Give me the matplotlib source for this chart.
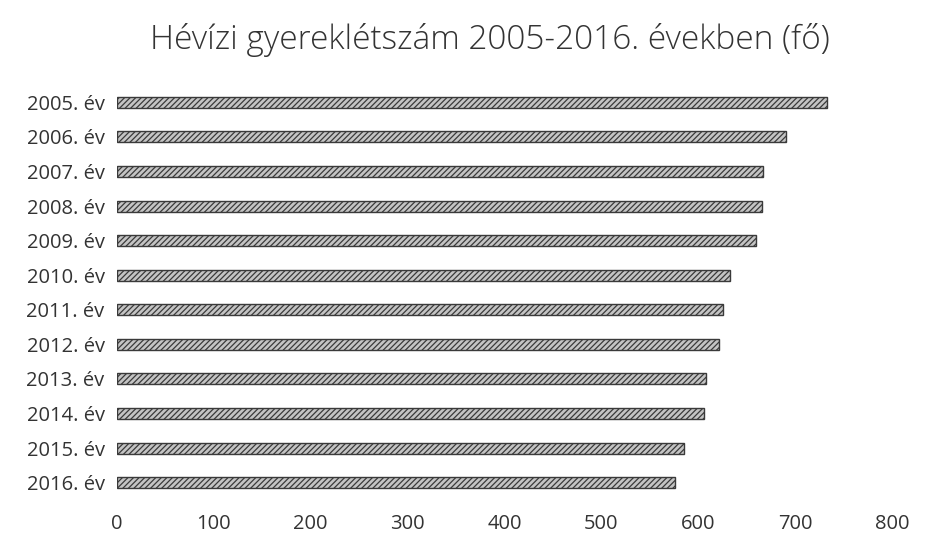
import numpy as np
import matplotlib.pyplot as plt

plt.rcParams['font.family'] = ['Open Sans', 'DejaVu Sans']
plt.rcParams['hatch.color'] = '#7a7a7a'
plt.rcParams['hatch.linewidth'] = 0.9

# adatok
evek = ['2005. év', '2006. év', '2007. év', '2008. év', '2009. év', '2010. év',
        '2011. év', '2012. év', '2013. év', '2014. év', '2015. év', '2016. év']
letszam = [733, 691, 667, 666, 660, 633, 626, 621, 608, 606, 585, 576]
xticks = [0, 100, 200, 300, 400, 500, 600, 700, 800]

fig = plt.figure(figsize=(9.25, 5.4), dpi=100)
ax = fig.add_axes([117 / 925, 1 - 500 / 540, 775 / 925, 415 / 540])

y = np.arange(len(evek))
ax.barh(y, letszam, height=0.32, color='#c4c4c4', edgecolor='#3a3a3a',
        linewidth=1.0, hatch='//////')

ax.set_ylim(len(evek) - 0.5, -0.5)
ax.set_xlim(0, 800)
ax.set_yticks(y)
ax.set_yticklabels(evek)
ax.set_xticks(xticks)
ax.tick_params(axis='both', length=0, labelsize=14.5, colors='#333333')
ax.tick_params(axis='y', pad=9)
ax.tick_params(axis='x', pad=10)
for s in ax.spines.values():
    s.set_visible(False)

fig.text(490 / 925, 1 - 40 / 540, 'Hévízi gyereklétszám 2005-2016. években (fő)',
         ha='center', va='center', fontsize=24, color='#333333',
         fontweight='light')

fig.savefig('out.png', dpi=100)
